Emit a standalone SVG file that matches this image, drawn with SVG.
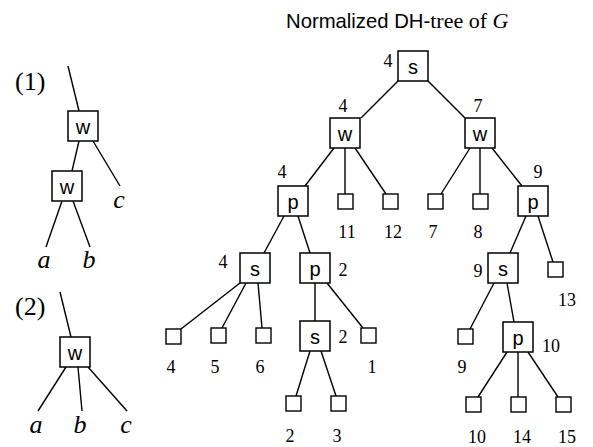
<svg xmlns="http://www.w3.org/2000/svg" width="593" height="447" viewBox="0 0 593 447">
<style>
.bx{fill:#fff;stroke:#000;stroke-width:1.5}
.lf{fill:#fff;stroke:#000;stroke-width:1.4}
.e line{stroke:#000;stroke-width:1.4}
.t{font-family:"Liberation Sans",Arial,sans-serif;font-size:20px;text-anchor:middle}
.n{font-family:"Liberation Serif","Times New Roman",serif;font-size:18px;text-anchor:middle}
.v{font-family:"Liberation Serif","Times New Roman",serif;font-size:26px;font-style:italic;text-anchor:middle}
.lab{font-family:"Liberation Serif","Times New Roman",serif;font-size:26px}
</style>
<rect width="593" height="447" fill="#fff"/>
<text x="286" y="28" font-family="Liberation Sans, Arial, sans-serif" font-size="20.3">Normalized DH-<tspan font-family="Liberation Serif, Times New Roman, serif" font-size="22">tree of </tspan><tspan font-family="Liberation Serif, Times New Roman, serif" font-size="22" font-style="italic">G</tspan></text>
<g id="connectors" class="e">
<line x1="68" y1="66" x2="79" y2="111"/>
<line x1="79" y1="141" x2="72" y2="171"/>
<line x1="93" y1="141" x2="120" y2="186"/>
<line x1="62" y1="201" x2="46" y2="247"/>
<line x1="73" y1="201" x2="90" y2="247"/>
<line x1="60" y1="292" x2="71" y2="337"/>
<line x1="66" y1="367" x2="38" y2="411"/>
<line x1="78" y1="367" x2="82" y2="411"/>
<line x1="88" y1="367" x2="127" y2="411"/>
<line x1="398" y1="81" x2="361" y2="118"/>
<line x1="428" y1="81" x2="465" y2="118"/>
<line x1="334" y1="148" x2="305" y2="186"/>
<line x1="345" y1="148" x2="345" y2="194"/>
<line x1="355" y1="148" x2="386" y2="194"/>
<line x1="470" y1="148" x2="441" y2="194"/>
<line x1="480" y1="148" x2="480" y2="194"/>
<line x1="492" y1="148" x2="522" y2="186"/>
<line x1="284" y1="216" x2="264" y2="253"/>
<line x1="298" y1="216" x2="310" y2="253"/>
<line x1="240" y1="283" x2="181" y2="329"/>
<line x1="246" y1="283" x2="222" y2="328"/>
<line x1="258" y1="283" x2="262" y2="328"/>
<line x1="315" y1="283" x2="315" y2="321"/>
<line x1="327" y1="283" x2="363" y2="328"/>
<line x1="310" y1="351" x2="296" y2="396"/>
<line x1="321" y1="351" x2="336" y2="396"/>
<line x1="526" y1="216" x2="510" y2="253"/>
<line x1="538" y1="216" x2="553" y2="262"/>
<line x1="494" y1="283" x2="470" y2="329"/>
<line x1="507" y1="283" x2="514" y2="322"/>
<line x1="507" y1="352" x2="478" y2="397"/>
<line x1="518" y1="352" x2="518" y2="397"/>
<line x1="528" y1="352" x2="558" y2="397"/>
</g>
<text class="lab" x="15" y="90">(1)</text>
<text class="lab" x="15" y="315">(2)</text>
<g id="ex1-w1"><rect class="bx" x="68" y="111" width="30" height="30"/><text class="t" x="83" y="134">w</text></g>
<g id="ex1-w2"><rect class="bx" x="52" y="171" width="30" height="30"/><text class="t" x="67" y="194">w</text></g>
<text class="v" x="44" y="268">a</text>
<text class="v" x="89" y="268">b</text>
<text class="v" x="119" y="208">c</text>
<g id="ex2-w"><rect class="bx" x="60" y="337" width="30" height="30"/><text class="t" x="75" y="360">w</text></g>
<text class="v" x="36" y="433">a</text>
<text class="v" x="80" y="433">b</text>
<text class="v" x="126" y="433">c</text>
<g id="root"><rect class="bx" x="398" y="51" width="30" height="30"/><text class="t" x="413" y="74">s</text><text class="n" x="388" y="67">4</text></g>
<g id="wL"><rect class="bx" x="330" y="118" width="30" height="30"/><text class="t" x="345" y="141">w</text><text class="n" x="343" y="112">4</text></g>
<g id="wR"><rect class="bx" x="465" y="118" width="30" height="30"/><text class="t" x="480" y="141">w</text><text class="n" x="478" y="112">7</text></g>
<g id="pL"><rect class="bx" x="278" y="186" width="30" height="30"/><text class="t" x="293" y="209">p</text><text class="n" x="282" y="178">4</text></g>
<g id="pR"><rect class="bx" x="518" y="186" width="30" height="30"/><text class="t" x="533" y="209">p</text><text class="n" x="538" y="178">9</text></g>
<g id="sL"><rect class="bx" x="240" y="253" width="30" height="30"/><text class="t" x="255" y="276">s</text><text class="n" x="223" y="268">4</text></g>
<g id="p2"><rect class="bx" x="300" y="253" width="30" height="30"/><text class="t" x="315" y="276">p</text><text class="n" x="343" y="276">2</text></g>
<g id="s2"><rect class="bx" x="300" y="321" width="30" height="30"/><text class="t" x="315" y="344">s</text><text class="n" x="343" y="343">2</text></g>
<g id="sR"><rect class="bx" x="488" y="253" width="30" height="30"/><text class="t" x="503" y="276">s</text><text class="n" x="478" y="277">9</text></g>
<g id="pR2"><rect class="bx" x="503" y="322" width="30" height="30"/><text class="t" x="518" y="345">p</text><text class="n" x="551" y="352">10</text></g>
<g id="leaf11"><rect class="lf" x="338" y="194" width="15" height="15"/><text class="n" x="347" y="238">11</text></g>
<g id="leaf12"><rect class="lf" x="383" y="194" width="15" height="15"/><text class="n" x="393" y="238">12</text></g>
<g id="leaf7"><rect class="lf" x="428" y="194" width="15" height="15"/><text class="n" x="433" y="238">7</text></g>
<g id="leaf8"><rect class="lf" x="473" y="194" width="15" height="15"/><text class="n" x="478" y="238">8</text></g>
<g id="leaf13"><rect class="lf" x="548" y="262" width="15" height="15"/><text class="n" x="567" y="306">13</text></g>
<g id="leaf4"><rect class="lf" x="166" y="329" width="15" height="15"/><text class="n" x="171" y="373">4</text></g>
<g id="leaf5"><rect class="lf" x="211" y="328" width="15" height="15"/><text class="n" x="215" y="373">5</text></g>
<g id="leaf6"><rect class="lf" x="256" y="328" width="15" height="15"/><text class="n" x="260" y="373">6</text></g>
<g id="leaf1"><rect class="lf" x="361" y="328" width="15" height="15"/><text class="n" x="372" y="373">1</text></g>
<g id="leaf9"><rect class="lf" x="458" y="329" width="15" height="15"/><text class="n" x="462" y="373">9</text></g>
<g id="leaf2"><rect class="lf" x="286" y="396" width="15" height="15"/><text class="n" x="290" y="442">2</text></g>
<g id="leaf3"><rect class="lf" x="331" y="396" width="15" height="15"/><text class="n" x="337" y="442">3</text></g>
<g id="leaf10"><rect class="lf" x="466" y="397" width="15" height="15"/><text class="n" x="477" y="443">10</text></g>
<g id="leaf14"><rect class="lf" x="511" y="397" width="15" height="15"/><text class="n" x="522" y="443">14</text></g>
<g id="leaf15"><rect class="lf" x="556" y="397" width="15" height="15"/><text class="n" x="567" y="443">15</text></g>
</svg>
